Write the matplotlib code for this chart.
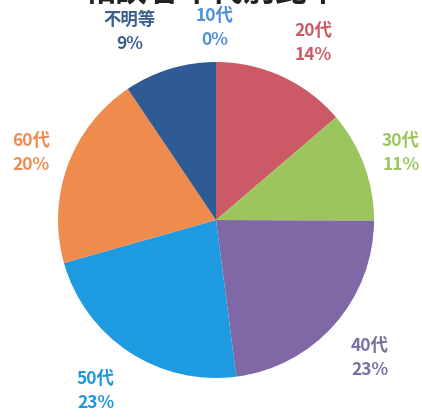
import matplotlib
matplotlib.use('Agg')
import matplotlib.pyplot as plt

plt.rcParams['font.family'] = ['Noto Sans CJK JP', 'DejaVu Sans']

# Data
categories = ['10代', '20代', '30代', '40代', '50代', '60代', '不明等']
shares = [0.0, 13.7, 11.3, 22.8, 22.6, 19.9, 9.4]
pct_labels = ['0%', '14%', '11%', '23%', '23%', '20%', '9%']

slice_colors = ['#4F8FD6', '#CB5A66', '#9CC55E', '#8067A6', '#1E9BE0', '#F08B4E', '#2F5B94']
text_colors = ['#4F8FD6', '#CB5A66', '#9CC55E', '#7A6FA0', '#1E96DA', '#EE8A50', '#3B5E8F']

# label centres in pixel space (x, y from the bottom)
label_pos = [(215, 390), (313, 375), (401, 265), (370, 60), (96, 27), (31, 265), (130, 386)]

fig = plt.figure(figsize=(4.22, 4.18), dpi=100)
ax = fig.add_axes([0, 0, 1, 1])

ax.pie(shares, colors=slice_colors, startangle=90, counterclock=False,
       center=(216, 198), radius=158, frame=True,
       wedgeprops=dict(linewidth=0))
ax.set_xlim(0, 422)
ax.set_ylim(0, 418)
ax.set_aspect('equal')
ax.axis('off')

for cat, pct, col, (x, y) in zip(categories, pct_labels, text_colors, label_pos):
    ax.text(x, y, f'{cat}\n{pct}', ha='center', va='center', color=col,
            fontsize=12.5, fontweight='bold', linespacing=1.45)

# title is cut off at the top edge in the reference
fig.text(0.5, 1.02, '相談者年代別比率', ha='center', va='center',
         fontsize=23, fontweight='bold', color='#222222')

fig.savefig('out.png', dpi=100, facecolor='white')
